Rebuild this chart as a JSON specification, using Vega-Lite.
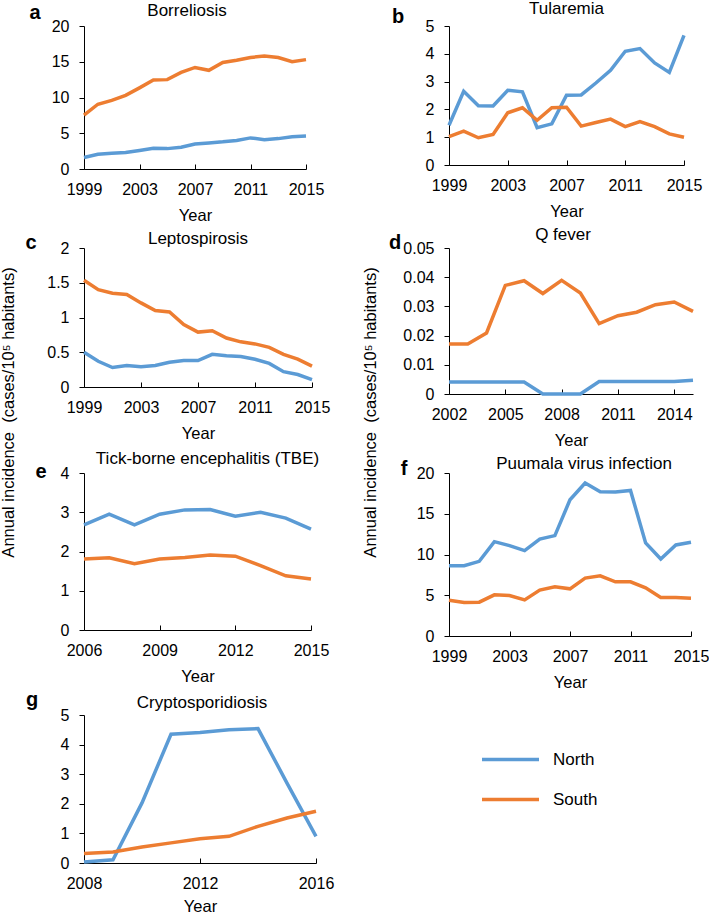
{
  "$schema": "https://vega.github.io/schema/vega-lite/v6.json",
  "autosize": {"type": "pad"},
  "padding": {"left": 0, "top": 0, "right": 5, "bottom": 0},
  "background": "white",
  "datasets": {
    "a": [
      {"year":1999,"region":"North","value":1.6},{"year":2000,"region":"North","value":2.05},{"year":2001,"region":"North","value":2.2},{"year":2002,"region":"North","value":2.3},{"year":2003,"region":"North","value":2.6},{"year":2004,"region":"North","value":2.9},{"year":2005,"region":"North","value":2.85},{"year":2006,"region":"North","value":3.05},{"year":2007,"region":"North","value":3.5},{"year":2008,"region":"North","value":3.65},{"year":2009,"region":"North","value":3.8},{"year":2010,"region":"North","value":4.0},{"year":2011,"region":"North","value":4.35},{"year":2012,"region":"North","value":4.1},{"year":2013,"region":"North","value":4.25},{"year":2014,"region":"North","value":4.5},{"year":2015,"region":"North","value":4.6},
      {"year":1999,"region":"South","value":7.55},{"year":2000,"region":"South","value":9.06},{"year":2001,"region":"South","value":9.6},{"year":2002,"region":"South","value":10.3},{"year":2003,"region":"South","value":11.35},{"year":2004,"region":"South","value":12.45},{"year":2005,"region":"South","value":12.5},{"year":2006,"region":"South","value":13.5},{"year":2007,"region":"South","value":14.2},{"year":2008,"region":"South","value":13.8},{"year":2009,"region":"South","value":14.9},{"year":2010,"region":"South","value":15.2},{"year":2011,"region":"South","value":15.6},{"year":2012,"region":"South","value":15.8},{"year":2013,"region":"South","value":15.6},{"year":2014,"region":"South","value":15.0},{"year":2015,"region":"South","value":15.3}
    ],
    "b": [
      {"year":1999,"region":"North","value":1.43},{"year":2000,"region":"North","value":2.65},{"year":2001,"region":"North","value":2.13},{"year":2002,"region":"North","value":2.12},{"year":2003,"region":"North","value":2.69},{"year":2004,"region":"North","value":2.63},{"year":2005,"region":"North","value":1.34},{"year":2006,"region":"North","value":1.48},{"year":2007,"region":"North","value":2.51},{"year":2008,"region":"North","value":2.52},{"year":2009,"region":"North","value":2.95},{"year":2010,"region":"North","value":3.41},{"year":2011,"region":"North","value":4.09},{"year":2012,"region":"North","value":4.19},{"year":2013,"region":"North","value":3.67},{"year":2014,"region":"North","value":3.33},{"year":2015,"region":"North","value":4.66},
      {"year":1999,"region":"South","value":1.02},{"year":2000,"region":"South","value":1.22},{"year":2001,"region":"South","value":0.98},{"year":2002,"region":"South","value":1.1},{"year":2003,"region":"South","value":1.88},{"year":2004,"region":"South","value":2.06},{"year":2005,"region":"South","value":1.61},{"year":2006,"region":"South","value":2.06},{"year":2007,"region":"South","value":2.08},{"year":2008,"region":"South","value":1.4},{"year":2009,"region":"South","value":1.53},{"year":2010,"region":"South","value":1.65},{"year":2011,"region":"South","value":1.38},{"year":2012,"region":"South","value":1.56},{"year":2013,"region":"South","value":1.38},{"year":2014,"region":"South","value":1.12},{"year":2015,"region":"South","value":1.0}
    ],
    "c": [
      {"year":1999,"region":"North","value":0.5},{"year":2000,"region":"North","value":0.37},{"year":2001,"region":"North","value":0.28},{"year":2002,"region":"North","value":0.31},{"year":2003,"region":"North","value":0.29},{"year":2004,"region":"North","value":0.31},{"year":2005,"region":"North","value":0.355},{"year":2006,"region":"North","value":0.38},{"year":2007,"region":"North","value":0.38},{"year":2008,"region":"North","value":0.47},{"year":2009,"region":"North","value":0.45},{"year":2010,"region":"North","value":0.44},{"year":2011,"region":"North","value":0.40},{"year":2012,"region":"North","value":0.34},{"year":2013,"region":"North","value":0.22},{"year":2014,"region":"North","value":0.18},{"year":2015,"region":"North","value":0.105},
      {"year":1999,"region":"South","value":1.535},{"year":2000,"region":"South","value":1.40},{"year":2001,"region":"South","value":1.35},{"year":2002,"region":"South","value":1.33},{"year":2003,"region":"South","value":1.21},{"year":2004,"region":"South","value":1.10},{"year":2005,"region":"South","value":1.08},{"year":2006,"region":"South","value":0.90},{"year":2007,"region":"South","value":0.79},{"year":2008,"region":"South","value":0.81},{"year":2009,"region":"South","value":0.705},{"year":2010,"region":"South","value":0.65},{"year":2011,"region":"South","value":0.62},{"year":2012,"region":"South","value":0.57},{"year":2013,"region":"South","value":0.47},{"year":2014,"region":"South","value":0.40},{"year":2015,"region":"South","value":0.30}
    ],
    "d": [
      {"year":2002,"region":"North","value":0.0041},{"year":2003,"region":"North","value":0.0041},{"year":2004,"region":"North","value":0.0041},{"year":2005,"region":"North","value":0.0041},{"year":2006,"region":"North","value":0.0041},{"year":2007,"region":"North","value":0},{"year":2008,"region":"North","value":0},{"year":2009,"region":"North","value":0},{"year":2010,"region":"North","value":0.0043},{"year":2011,"region":"North","value":0.0043},{"year":2012,"region":"North","value":0.0043},{"year":2013,"region":"North","value":0.0043},{"year":2014,"region":"North","value":0.0043},{"year":2015,"region":"North","value":0.0047},
      {"year":2002,"region":"South","value":0.0171},{"year":2003,"region":"South","value":0.0171},{"year":2004,"region":"South","value":0.0209},{"year":2005,"region":"South","value":0.0372},{"year":2006,"region":"South","value":0.0388},{"year":2007,"region":"South","value":0.0344},{"year":2008,"region":"South","value":0.0389},{"year":2009,"region":"South","value":0.0346},{"year":2010,"region":"South","value":0.0241},{"year":2011,"region":"South","value":0.0268},{"year":2012,"region":"South","value":0.028},{"year":2013,"region":"South","value":0.0306},{"year":2014,"region":"South","value":0.0315},{"year":2015,"region":"South","value":0.0283}
    ],
    "e": [
      {"year":2006,"region":"North","value":2.68},{"year":2007,"region":"North","value":2.95},{"year":2008,"region":"North","value":2.68},{"year":2009,"region":"North","value":2.95},{"year":2010,"region":"North","value":3.06},{"year":2011,"region":"North","value":3.07},{"year":2012,"region":"North","value":2.9},{"year":2013,"region":"North","value":3.0},{"year":2014,"region":"North","value":2.85},{"year":2015,"region":"North","value":2.57},
      {"year":2006,"region":"South","value":1.81},{"year":2007,"region":"South","value":1.84},{"year":2008,"region":"South","value":1.69},{"year":2009,"region":"South","value":1.81},{"year":2010,"region":"South","value":1.85},{"year":2011,"region":"South","value":1.91},{"year":2012,"region":"South","value":1.88},{"year":2013,"region":"South","value":1.64},{"year":2014,"region":"South","value":1.38},{"year":2015,"region":"South","value":1.3}
    ],
    "f": [
      {"year":1999,"region":"North","value":8.62},{"year":2000,"region":"North","value":8.62},{"year":2001,"region":"North","value":9.16},{"year":2002,"region":"North","value":11.58},{"year":2003,"region":"North","value":11.09},{"year":2004,"region":"North","value":10.47},{"year":2005,"region":"North","value":11.9},{"year":2006,"region":"North","value":12.32},{"year":2007,"region":"North","value":16.71},{"year":2008,"region":"North","value":18.77},{"year":2009,"region":"North","value":17.7},{"year":2010,"region":"North","value":17.66},{"year":2011,"region":"North","value":17.86},{"year":2012,"region":"North","value":11.42},{"year":2013,"region":"North","value":9.45},{"year":2014,"region":"North","value":11.17},{"year":2015,"region":"North","value":11.5},
      {"year":1999,"region":"South","value":4.39},{"year":2000,"region":"South","value":4.1},{"year":2001,"region":"South","value":4.15},{"year":2002,"region":"South","value":5.05},{"year":2003,"region":"South","value":4.97},{"year":2004,"region":"South","value":4.43},{"year":2005,"region":"South","value":5.63},{"year":2006,"region":"South","value":6.04},{"year":2007,"region":"South","value":5.79},{"year":2008,"region":"South","value":7.1},{"year":2009,"region":"South","value":7.39},{"year":2010,"region":"South","value":6.65},{"year":2011,"region":"South","value":6.65},{"year":2012,"region":"South","value":5.91},{"year":2013,"region":"South","value":4.72},{"year":2014,"region":"South","value":4.72},{"year":2015,"region":"South","value":4.64}
    ],
    "g": [
      {"year":2008,"region":"North","value":0.03},{"year":2009,"region":"North","value":0.11},{"year":2010,"region":"North","value":2.03},{"year":2011,"region":"North","value":4.35},{"year":2012,"region":"North","value":4.41},{"year":2013,"region":"North","value":4.5},{"year":2014,"region":"North","value":4.54},{"year":2015,"region":"North","value":2.7},{"year":2016,"region":"North","value":0.9},
      {"year":2008,"region":"South","value":0.32},{"year":2009,"region":"South","value":0.37},{"year":2010,"region":"South","value":0.54},{"year":2011,"region":"South","value":0.68},{"year":2012,"region":"South","value":0.82},{"year":2013,"region":"South","value":0.9},{"year":2014,"region":"South","value":1.24},{"year":2015,"region":"South","value":1.52},{"year":2016,"region":"South","value":1.75}
    ]
  },
  "columns": 2,
  "bounds": "flush",
  "spacing": {"row": 79, "column": 133},
  "concat": [
    {
      "width": 222, "height": 143,
      "title": {"text": "Borreliosis", "dx": -8, "dy": 21},
      "layer": [
        {"data": {"name": "a"}, "mark": {"type": "line", "strokeWidth": 3.5},
         "encoding": {
           "x": {"field": "year", "type": "quantitative", "scale": {"domain": [1999, 2015], "nice": false, "zero": false}, "axis": {"values": [1999, 2003, 2007, 2011, 2015], "tickCount": 20, "format": "d", "title": "Year"}},
           "y": {"field": "value", "type": "quantitative", "scale": {"domain": [0, 20], "nice": false}, "axis": {"values": [0, 5, 10, 15, 20], "tickCount": 20, "format": "~g", "title": null, "labelOverlap": false}},
           "color": {"field": "region", "type": "nominal", "scale": {"domain": ["North", "South"], "range": ["#5B9BD5", "#ED7D31"]}, "legend": {"title": null, "orient": "none", "legendX": 415, "legendY": 722}}
         }},
        {"data": {"values": [{"label": "a"}]}, "mark": {"type": "text", "fontSize": 20, "fontWeight": "bold", "align": "center", "baseline": "alphabetic", "dx": -49, "dy": -7},
         "encoding": {"x": {"datum": 1999}, "y": {"datum": 20}, "text": {"field": "label"}}}
      ]
    },
    {
      "width": 235, "height": 139,
      "title": {"text": "Tularemia", "dx": 0, "dy": 15},
      "layer": [
        {"data": {"name": "b"}, "mark": {"type": "line", "strokeWidth": 3.5},
         "encoding": {
           "x": {"field": "year", "type": "quantitative", "scale": {"domain": [1999, 2015], "nice": false, "zero": false}, "axis": {"values": [1999, 2003, 2007, 2011, 2015], "tickCount": 20, "format": "d", "title": "Year"}},
           "y": {"field": "value", "type": "quantitative", "scale": {"domain": [0, 5], "nice": false}, "axis": {"values": [0, 1, 2, 3, 4, 5], "tickCount": 20, "format": "~g", "title": null, "labelOverlap": false}},
           "color": {"field": "region", "type": "nominal", "scale": {"domain": ["North", "South"], "range": ["#5B9BD5", "#ED7D31"]}, "legend": {"title": null, "orient": "none", "legendX": 415, "legendY": 722}}
         }},
        {"data": {"values": [{"label": "b"}]}, "mark": {"type": "text", "fontSize": 20, "fontWeight": "bold", "align": "center", "baseline": "alphabetic", "dx": -51, "dy": -3},
         "encoding": {"x": {"datum": 1999}, "y": {"datum": 5}, "text": {"field": "label"}}}
      ]
    },
    {
      "width": 228, "height": 139,
      "title": {"text": "Leptospirosis", "dx": 0, "dy": 19},
      "layer": [
        {"data": {"name": "c"}, "mark": {"type": "line", "strokeWidth": 3.5},
         "encoding": {
           "x": {"field": "year", "type": "quantitative", "scale": {"domain": [1999, 2015], "nice": false, "zero": false}, "axis": {"values": [1999, 2003, 2007, 2011, 2015], "tickCount": 20, "format": "d", "title": "Year"}},
           "y": {"field": "value", "type": "quantitative", "scale": {"domain": [0, 2], "nice": false}, "axis": {"values": [0, 0.5, 1, 1.5, 2], "tickCount": 20, "format": "~g", "labelOverlap": false, "title": "Annual incidence\u00a0 (cases/10\u2075 habitants)", "titleX": -68, "titleY": 164}},
           "color": {"field": "region", "type": "nominal", "scale": {"domain": ["North", "South"], "range": ["#5B9BD5", "#ED7D31"]}, "legend": {"title": null, "orient": "none", "legendX": 415, "legendY": 722}}
         }},
        {"data": {"values": [{"label": "c"}]}, "mark": {"type": "text", "fontSize": 20, "fontWeight": "bold", "align": "center", "baseline": "alphabetic", "dx": -53, "dy": 1},
         "encoding": {"x": {"datum": 1999}, "y": {"datum": 2}, "text": {"field": "label"}}}
      ]
    },
    {
      "width": 244, "height": 146,
      "title": {"text": "Q fever", "dx": -8, "dy": 15},
      "layer": [
        {"data": {"name": "d"}, "mark": {"type": "line", "strokeWidth": 3.5},
         "encoding": {
           "x": {"field": "year", "type": "quantitative", "scale": {"domain": [2002, 2015], "nice": false, "zero": false}, "axis": {"values": [2002, 2005, 2008, 2011, 2014], "tickCount": 20, "format": "d", "title": "Year"}},
           "y": {"field": "value", "type": "quantitative", "scale": {"domain": [0, 0.05], "nice": false}, "axis": {"values": [0, 0.01, 0.02, 0.03, 0.04, 0.05], "tickCount": 20, "format": "~g", "labelOverlap": false, "title": "Annual incidence\u00a0 (cases/10\u2075 habitants)", "titleX": -71, "titleY": 164}},
           "color": {"field": "region", "type": "nominal", "scale": {"domain": ["North", "South"], "range": ["#5B9BD5", "#ED7D31"]}, "legend": {"title": null, "orient": "none", "legendX": 415, "legendY": 722}}
         }},
        {"data": {"values": [{"label": "d"}]}, "mark": {"type": "text", "fontSize": 20, "fontWeight": "bold", "align": "center", "baseline": "alphabetic", "dx": -54, "dy": 1},
         "encoding": {"x": {"datum": 2002}, "y": {"datum": 0.05}, "text": {"field": "label"}}}
      ]
    },
    {
      "width": 227, "height": 157,
      "title": {"text": "Tick-borne encephalitis (TBE)", "dx": 10, "dy": 10},
      "layer": [
        {"data": {"name": "e"}, "mark": {"type": "line", "strokeWidth": 3.5},
         "encoding": {
           "x": {"field": "year", "type": "quantitative", "scale": {"domain": [2006, 2015], "nice": false, "zero": false}, "axis": {"values": [2006, 2009, 2012, 2015], "tickCount": 20, "format": "d", "title": "Year"}},
           "y": {"field": "value", "type": "quantitative", "scale": {"domain": [0, 4], "nice": false}, "axis": {"values": [0, 1, 2, 3, 4], "tickCount": 20, "format": "~g", "title": null, "labelOverlap": false}},
           "color": {"field": "region", "type": "nominal", "scale": {"domain": ["North", "South"], "range": ["#5B9BD5", "#ED7D31"]}, "legend": {"title": null, "orient": "none", "legendX": 415, "legendY": 722}}
         }},
        {"data": {"values": [{"label": "e"}]}, "mark": {"type": "text", "fontSize": 20, "fontWeight": "bold", "align": "center", "baseline": "alphabetic", "dx": -43, "dy": 5},
         "encoding": {"x": {"datum": 2006}, "y": {"datum": 4}, "text": {"field": "label"}}}
      ]
    },
    {
      "width": 242, "height": 163,
      "title": {"text": "Puumala virus infection", "dx": 14, "dy": 18},
      "layer": [
        {"data": {"name": "f"}, "mark": {"type": "line", "strokeWidth": 3.5},
         "encoding": {
           "x": {"field": "year", "type": "quantitative", "scale": {"domain": [1999, 2015], "nice": false, "zero": false}, "axis": {"values": [1999, 2003, 2007, 2011, 2015], "tickCount": 20, "format": "d", "title": "Year"}},
           "y": {"field": "value", "type": "quantitative", "scale": {"domain": [0, 20], "nice": false}, "axis": {"values": [0, 5, 10, 15, 20], "tickCount": 20, "format": "~g", "title": null, "labelOverlap": false}},
           "color": {"field": "region", "type": "nominal", "scale": {"domain": ["North", "South"], "range": ["#5B9BD5", "#ED7D31"]}, "legend": {"title": null, "orient": "none", "legendX": 415, "legendY": 722}}
         }},
        {"data": {"values": [{"label": "f"}]}, "mark": {"type": "text", "fontSize": 20, "fontWeight": "bold", "align": "center", "baseline": "alphabetic", "dx": -45, "dy": 2},
         "encoding": {"x": {"datum": 1999}, "y": {"datum": 20}, "text": {"field": "label"}}}
      ]
    },
    {
      "width": 232, "height": 148,
      "title": {"text": "Cryptosporidiosis", "dx": 2, "dy": 26},
      "layer": [
        {"data": {"name": "g"}, "mark": {"type": "line", "strokeWidth": 3.5},
         "encoding": {
           "x": {"field": "year", "type": "quantitative", "scale": {"domain": [2008, 2016], "nice": false, "zero": false}, "axis": {"values": [2008, 2012, 2016], "tickCount": 20, "format": "d", "title": "Year", "titlePadding": 7}},
           "y": {"field": "value", "type": "quantitative", "scale": {"domain": [0, 5], "nice": false}, "axis": {"values": [0, 1, 2, 3, 4, 5], "tickCount": 20, "format": "~g", "title": null, "labelOverlap": false}},
           "color": {"field": "region", "type": "nominal", "scale": {"domain": ["North", "South"], "range": ["#5B9BD5", "#ED7D31"]}, "legend": {"title": null, "orient": "none", "legendX": 415, "legendY": 722}}
         }},
        {"data": {"values": [{"label": "g"}]}, "mark": {"type": "text", "fontSize": 20, "fontWeight": "bold", "align": "center", "baseline": "alphabetic", "dx": -52, "dy": -9},
         "encoding": {"x": {"datum": 2008}, "y": {"datum": 5}, "text": {"field": "label"}}}
      ]
    }
  ],
  "config": {
    "font": "Liberation Sans",
    "view": {"stroke": null},
    "text": {"color": "#000", "font": "Liberation Sans"},
    "axis": {"grid": false, "domainColor": "#000", "tickColor": "#000", "labelColor": "#000", "titleColor": "#000", "labelFontSize": 16, "titleFontSize": 16.5, "titleFontWeight": "normal", "labelFlush": false, "labelOverlap": false, "labelBound": false, "labelFont": "Liberation Sans", "titleFont": "Liberation Sans"},
    "axisX": {"tickSize": -5, "labelPadding": 17, "titlePadding": 10},
    "axisY": {"tickSize": 5, "labelPadding": 10},
    "title": {"fontSize": 17, "fontWeight": "normal", "font": "Liberation Sans", "color": "#000", "frame": "group", "anchor": "middle", "offset": 4},
    "legend": {"symbolType": "M-3,0H3", "symbolSize": 361, "symbolStrokeWidth": 3.5, "labelFontSize": 17, "labelOffset": 31, "rowPadding": 20, "padding": 0, "labelColor": "#000", "labelFont": "Liberation Sans"}
  }
}
